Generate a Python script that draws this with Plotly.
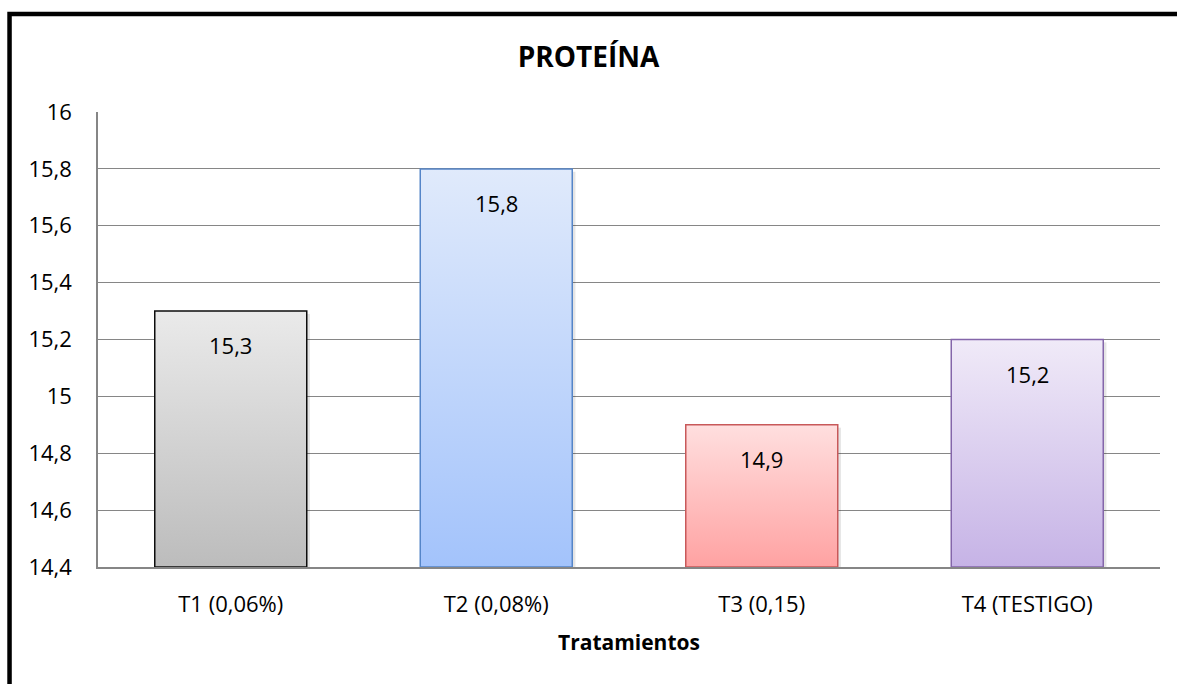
import plotly.graph_objects as go

# Protein content per treatment
categorias = ["T1 (0,06%)", "T2 (0,08%)", "T3 (0,15)", "T4 (TESTIGO)"]
proteina = [15.3, 15.8, 14.9, 15.2]
etiquetas = ["15,3", "15,8", "14,9", "15,2"]

# Fill gradient (bottom, top) and outline colour per bar
color_inferior = ["#bcbcbc", "#a3c3fb", "#ffa2a2", "#c6b3e6"]
color_superior = ["#eaeaea", "#e0eafb", "#ffdfdf", "#f0eaf8"]
color_borde = ["#0d0d0d", "#5585c8", "#c8595a", "#8466aa"]

y_min, y_max, y_paso = 14.4, 16.0, 0.2
ancho_barra = 0.5725
FONT = "Open Sans"

fig = go.Figure()

for i, (cat, v) in enumerate(zip(categorias, proteina)):
    x0, x1 = i - ancho_barra / 2, i + ancho_barra / 2
    # soft shadow on the right-hand side of the column
    fig.add_trace(go.Scatter(
        x=[x1, x1 + 0.012, x1 + 0.012, x1, x1],
        y=[y_min, y_min, v - 0.01, v - 0.01, y_min],
        mode="lines", line=dict(width=0), fill="toself",
        fillcolor="rgba(0,0,0,0.10)", hoverinfo="skip", showlegend=False,
    ))
    fig.add_trace(go.Scatter(
        x=[x0, x1, x1, x0, x0],
        y=[y_min, y_min, v, v, y_min],
        mode="lines",
        line=dict(color=color_borde[i], width=1.5),
        fill="toself",
        fillgradient=dict(
            type="vertical",
            colorscale=[[0, color_inferior[i]], [1, color_superior[i]]],
        ),
        name=cat,
        hoverinfo="skip",
        showlegend=False,
    ))
    fig.add_annotation(
        x=i, y=v, text=etiquetas[i], showarrow=False,
        yanchor="top", yshift=-17,
        font=dict(family=FONT, size=22, color="#000000"),
    )

# frame around the whole chart (its right and bottom edges fall outside the view)
fig.add_shape(
    type="rect", xref="paper", yref="paper",
    x0=-0.0833, x1=1.03, y0=-0.30, y1=1.2154,
    line=dict(color="#000000", width=4.5), fillcolor="rgba(0,0,0,0)",
    layer="above",
)

fig.update_layout(
    width=1177, height=684,
    margin=dict(l=98, r=17, t=112, b=117),
    paper_bgcolor="#ffffff", plot_bgcolor="#ffffff",
    separators=",.",
    font=dict(family=FONT, size=22, color="#000000"),
    title=dict(
        text="<b>PROTEÍNA</b>", x=0.5, xref="container", xanchor="center",
        y=1 - 57 / 684, yanchor="middle",
        font=dict(family=FONT, size=28, color="#000000"),
    ),
    xaxis=dict(
        range=[-0.5, 3.5],
        tickvals=list(range(len(categorias))),
        ticktext=categorias,
        showgrid=False, zeroline=False,
        showline=True, linecolor="#868686", linewidth=1.5,
        ticks="", ticklabelstandoff=17,
        tickfont=dict(family=FONT, size=22, color="#000000"),
        title=dict(text="<b>Tratamientos</b>", standoff=18,
                   font=dict(family=FONT, size=21, color="#000000")),
        fixedrange=True,
    ),
    yaxis=dict(
        range=[y_min, y_max], dtick=y_paso, tick0=y_min,
        showgrid=True, gridcolor="#868686", gridwidth=1.2,
        zeroline=False,
        showline=True, linecolor="#868686", linewidth=1.5,
        ticks="", ticklabelstandoff=20,
        tickfont=dict(family=FONT, size=22, color="#000000"),
        fixedrange=True,
    ),
)

fig.write_html("out.html")
